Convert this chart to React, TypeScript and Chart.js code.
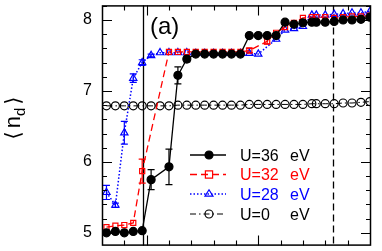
import React, { useEffect, useRef } from 'react';
import { Chart, registerables } from 'chart.js';

Chart.register(...registerables);

// ---- data ----
const xU36 = [0.2, 0.6, 1.0, 1.4, 1.8, 2.2, 3.0, 3.4, 3.8, 4.2, 4.6, 5.0, 5.4, 5.8, 6.2, 6.6, 7.0, 7.4, 7.8, 8.2, 8.6, 9.0, 9.4, 9.6, 10.0, 10.4, 10.8, 11.2, 11.6, 12.0];
const yU36 = [5.0, 5.02, 5.0, 5.02, 5.03, 5.75, 5.93, 7.22, 7.45, 7.52, 7.52, 7.52, 7.52, 7.52, 7.52, 7.78, 7.78, 7.78, 7.78, 7.97, 7.94, 7.96, 7.97, 7.97, 7.97, 7.98, 8.0, 8.0, 8.01, 8.04];
const eU36 = [0, 0, 0, 0, 0, 0.14, 0.25, 0.12, 0.04, 0, 0, 0, 0, 0, 0, 0, 0, 0, 0, 0, 0, 0, 0, 0, 0, 0, 0, 0, 0, 0];

const xU32 = [0.2, 0.6, 1.0, 1.4, 1.8, 3.0, 3.4, 3.8, 4.2, 4.6, 5.0, 5.4, 5.8, 6.2, 6.6, 7.4, 7.8, 8.2, 8.6, 9.0, 9.4, 9.6, 10.0, 10.4, 10.8, 11.2, 11.6, 12.0];
const yU32 = [5.08, 5.1, 5.11, 5.14, 5.87, 7.55, 7.55, 7.55, 7.55, 7.55, 7.55, 7.55, 7.55, 7.55, 7.57, 7.7, 7.82, 7.9, 7.96, 8.03, 8.04, 8.04, 8.04, 8.03, 8.04, 8.05, 8.05, 8.06];
const eU32 = [0, 0, 0, 0, 0.17, 0, 0, 0, 0, 0, 0, 0, 0, 0, 0.03, 0.04, 0, 0, 0, 0, 0, 0, 0, 0, 0, 0, 0, 0];

const xU28 = [0.2, 0.6, 1.0, 1.4, 1.8, 2.2, 2.6, 3.0, 3.4, 3.8, 4.2, 4.6, 5.0, 5.4, 5.8, 6.2, 6.6, 7.0, 7.8, 8.2, 8.6, 9.0, 9.4, 9.6, 10.0, 10.4, 10.8, 11.2, 11.6, 12.0];
const yU28 = [5.57, 5.39, 6.41, 7.18, 7.4, 7.5, 7.54, 7.54, 7.54, 7.54, 7.53, 7.53, 7.53, 7.53, 7.53, 7.53, 7.53, 7.52, 7.73, 7.86, 7.88, 7.91, 8.07, 8.07, 8.07, 8.08, 8.09, 8.1, 8.1, 8.12];
const eU28 = [0.1, 0.03, 0.16, 0.06, 0.04, 0.02, 0, 0, 0, 0, 0, 0, 0, 0, 0, 0, 0, 0, 0, 0, 0, 0, 0, 0, 0, 0, 0, 0, 0, 0];

const xU0 = [0.2, 0.6, 1.0, 1.4, 1.8, 2.2, 2.6, 3.0, 3.4, 3.8, 4.2, 4.6, 5.0, 5.4, 5.8, 6.2, 6.6, 7.0, 7.4, 7.8, 8.2, 8.6, 9.0, 9.4, 9.6, 10.0, 10.4, 10.8, 11.2, 11.6, 12.0];
const yU0 = [6.79, 6.79, 6.79, 6.79, 6.79, 6.79, 6.79, 6.79, 6.8, 6.8, 6.8, 6.8, 6.8, 6.8, 6.8, 6.8, 6.81, 6.81, 6.81, 6.81, 6.81, 6.81, 6.81, 6.82, 6.82, 6.82, 6.82, 6.83, 6.83, 6.84, 6.85];

const seriesLabels = ['U=36', 'U=32', 'U=28', 'U=0'];
const unitLabel = 'eV';
const yTickValues = [5, 6, 7, 8];
const verticalLines = [1.82, 10.36];
const panelLabel = '(a)';

const X_MIN = 0;
const X_MAX = 12.05;
const Y_MIN = 4.82;
const Y_MAX = 8.206;

const FONT = '"Liberation Sans", Arial, sans-serif';

type Style = { color: string; dash: number[]; width: number; point: string; fill: string; radius: number };
const styles: Style[] = [
  { color: '#000000', dash: [], width: 1.3, point: 'circle', fill: '#000000', radius: 4 },
  { color: '#ff0000', dash: [7, 4], width: 1.3, point: 'rect', fill: 'rgba(0,0,0,0)', radius: 3.6 },
  { color: '#0000ff', dash: [1.5, 2], width: 1.5, point: 'triangle', fill: 'rgba(0,0,0,0)', radius: 4.2 },
  { color: '#000000', dash: [6, 3, 1.5, 3], width: 1, point: 'circle', fill: 'rgba(0,0,0,0)', radius: 4 },
];

const xsList = [xU36, xU32, xU28, xU0];
const ysList = [yU36, yU32, yU28, yU0];
const errList = [eU36, eU32, eU28, null];

function drawMarker(ctx: CanvasRenderingContext2D, st: Style, cx: number, cy: number) {
  ctx.save();
  ctx.setLineDash([]);
  ctx.strokeStyle = st.color;
  ctx.fillStyle = st.fill;
  ctx.lineWidth = 1.2;
  ctx.beginPath();
  const r = st.radius;
  if (st.point === 'circle') {
    ctx.arc(cx, cy, r, 0, Math.PI * 2);
  } else if (st.point === 'rect') {
    ctx.rect(cx - r, cy - r, 2 * r, 2 * r);
  } else {
    const h = r * 1.5;
    ctx.moveTo(cx, cy - r);
    ctx.lineTo(cx + r * 0.95, cy + h - r);
    ctx.lineTo(cx - r * 0.95, cy + h - r);
    ctx.closePath();
  }
  ctx.fill();
  ctx.stroke();
  ctx.restore();
}

const framePlugin = {
  id: 'frame',
  beforeDatasetsDraw(chart: any) {
    const { ctx, chartArea: a, scales } = chart;
    const xs = scales.x;
    const ys = scales.y;
    ctx.save();
    // vertical reference lines
    ctx.strokeStyle = '#000';
    ctx.lineWidth = 1.3;
    verticalLines.forEach((v, i) => {
      const px = Math.round(xs.getPixelForValue(v)) + 0.5;
      ctx.setLineDash(i === 0 ? [] : [7, 4]);
      ctx.beginPath();
      ctx.moveTo(px, a.top);
      ctx.lineTo(px, a.bottom);
      ctx.stroke();
    });
    ctx.setLineDash([]);
    // error bars
    errList.forEach((errs, si) => {
      if (!errs) return;
      const st = styles[si];
      ctx.strokeStyle = st.color;
      ctx.lineWidth = 1.2;
      errs.forEach((e, i) => {
        if (!e) return;
        const px = xs.getPixelForValue(xsList[si][i]);
        const top = ys.getPixelForValue(ysList[si][i] + e);
        const bot = ys.getPixelForValue(ysList[si][i] - e);
        ctx.beginPath();
        ctx.moveTo(px, top);
        ctx.lineTo(px, bot);
        ctx.moveTo(px - 3.5, top);
        ctx.lineTo(px + 3.5, top);
        ctx.moveTo(px - 3.5, bot);
        ctx.lineTo(px + 3.5, bot);
        ctx.stroke();
      });
    });
    ctx.restore();
  },
  afterDraw(chart: any) {
    const { ctx, chartArea: a, scales } = chart;
    const xs = scales.x;
    const ys = scales.y;
    ctx.save();
    ctx.setLineDash([]);
    ctx.strokeStyle = '#000';
    // border
    ctx.lineWidth = 1.5;
    ctx.strokeRect(a.left + 0.5, a.top + 0.5, a.right - a.left - 1, a.bottom - a.top - 1);
    // x ticks
    ctx.lineWidth = 1.1;
    for (let v = 1; v <= 11; v++) {
      const px = Math.round(xs.getPixelForValue(v)) + 0.5;
      const len = v === 2 || v === 7 ? 10 : 5;
      ctx.beginPath();
      ctx.moveTo(px, a.bottom);
      ctx.lineTo(px, a.bottom - len);
      ctx.moveTo(px, a.top);
      ctx.lineTo(px, a.top + len);
      ctx.stroke();
    }
    // y ticks
    for (let k = 0; k <= 16; k++) {
      const v = 5 + k * 0.2;
      if (v > Y_MAX) break;
      const py = Math.round(ys.getPixelForValue(v)) + 0.5;
      const len = k % 5 === 0 ? 10 : 5;
      ctx.beginPath();
      ctx.moveTo(a.left, py);
      ctx.lineTo(a.left + len, py);
      ctx.moveTo(a.right, py);
      ctx.lineTo(a.right - len, py);
      ctx.stroke();
    }
    // panel label
    ctx.fillStyle = '#000';
    ctx.font = `24px ${FONT}`;
    ctx.textAlign = 'left';
    ctx.textBaseline = 'alphabetic';
    ctx.fillText(panelLabel, 150, 33.5);

    // legend
    const rows = [155, 174.5, 194, 214];
    styles.forEach((st, i) => {
      const ry = rows[i];
      ctx.save();
      ctx.strokeStyle = st.color;
      ctx.lineWidth = st.width;
      ctx.setLineDash(st.dash);
      ctx.beginPath();
      ctx.moveTo(190, ry);
      ctx.lineTo(226, ry);
      ctx.stroke();
      ctx.restore();
      drawMarker(ctx, st, 209, ry);
      ctx.fillStyle = st.color;
      ctx.font = `16px ${FONT}`;
      ctx.fillText(seriesLabels[i], 240, ry + 5.8);
      ctx.fillText(unitLabel, 290, ry + 5.8);
    });

    // y title <n_d>
    ctx.save();
    ctx.translate(20, 118);
    ctx.rotate(-Math.PI / 2);
    ctx.fillStyle = '#000';
    const brFont = `21px "DejaVu Sans", ${FONT}`;
    const nFont = `22px ${FONT}`;
    const dFont = `15px ${FONT}`;
    ctx.font = brFont;
    const wl = ctx.measureText('⟨').width;
    const wr = ctx.measureText('⟩').width;
    ctx.font = nFont;
    const wn = ctx.measureText('n').width;
    ctx.font = dFont;
    const wd = ctx.measureText('d').width;
    const gap = 3;
    const total = wl + gap + wn + wd + gap + wr;
    let cx = -total / 2;
    ctx.textAlign = 'left';
    ctx.font = brFont;
    ctx.fillText('⟨', cx, 0);
    cx += wl + gap;
    ctx.font = nFont;
    ctx.fillText('n', cx, 0);
    cx += wn;
    ctx.font = dFont;
    ctx.fillText('d', cx, 5);
    cx += wd + gap;
    ctx.font = brFont;
    ctx.fillText('⟩', cx, 0);
    ctx.restore();

    ctx.restore();
  },
};

export default function App() {
  const ref = useRef<HTMLCanvasElement | null>(null);
  useEffect(() => {
    document.body.style.margin = '0';
    const canvas = ref.current;
    if (!canvas) return;
    const datasets = styles.map((st, i) => ({
      label: seriesLabels[i],
      data: xsList[i].map((x, j) => ({ x, y: ysList[i][j] })),
      showLine: true,
      borderColor: st.color,
      borderWidth: st.width,
      borderDash: st.dash,
      pointStyle: st.point,
      pointRadius: st.radius,
      pointBackgroundColor: st.fill,
      pointBorderColor: st.color,
      pointBorderWidth: 1.2,
      backgroundColor: st.fill,
      fill: false,
      tension: 0,
    }));
    const chart = new Chart(canvas, {
      type: 'scatter',
      data: { datasets: datasets as any },
      options: {
        responsive: false,
        animation: false,
        devicePixelRatio: 1,
        layout: { padding: { top: 1, right: 11, bottom: 4, left: 0 } },
        plugins: { legend: { display: false }, tooltip: { enabled: false } },
        scales: {
          x: {
            type: 'linear',
            display: false,
            min: X_MIN,
            max: X_MAX,
          },
          y: {
            type: 'linear',
            min: Y_MIN,
            max: Y_MAX,
            grid: { display: false, drawTicks: false },
            border: { display: false },
            afterBuildTicks: (scale: any) => {
              scale.ticks = yTickValues.map((v) => ({ value: v }));
            },
            afterFit: (scale: any) => {
              scale.width = 102;
              scale.paddingTop = 0;
              scale.paddingBottom = 0;
            },
            ticks: {
              padding: 10,
              color: '#000',
              font: { family: FONT, size: 16 },
              callback: (v: any) => String(v),
            },
          },
        },
      },
      plugins: [framePlugin],
    });
    return () => chart.destroy();
  }, []);
  return (
    <div style={{ position: 'absolute', left: 0, top: 0, width: 382, height: 251 }}>
      <canvas ref={ref} width={382} height={251} style={{ display: 'block' }} />
    </div>
  );
}
